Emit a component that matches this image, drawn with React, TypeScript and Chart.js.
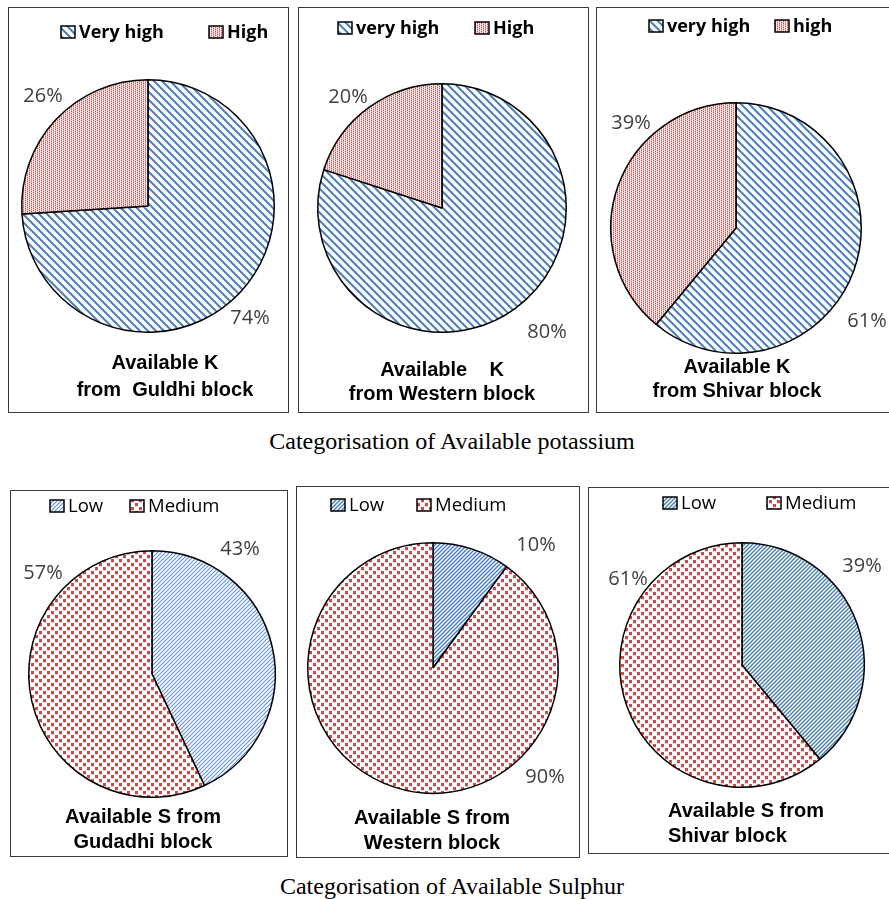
import React, { useEffect, useRef } from 'react';
import { Chart, registerables } from 'chart.js';

Chart.register(...registerables);

// ---- Available potassium (K) ----
const kGuldhiLabels = ['Very high', 'High'];
const kGuldhiValues = [74, 26];
const kGuldhiTitle = ['Available K', 'from  Guldhi block'];

const kWesternLabels = ['very high', 'High'];
const kWesternValues = [80, 20];
const kWesternTitle = ['Available    K', 'from Western block'];

const kShivarLabels = ['very high', 'high'];
const kShivarValues = [61, 39];
const kShivarTitle = ['Available K', 'from Shivar block'];

// ---- Available sulphur (S) ----
const sLabels = ['Low', 'Medium'];
const sGudadhiValues = [43, 57];
const sGudadhiTitle = ['Available S from', 'Gudadhi block'];
const sWesternValues = [10, 90];
const sWesternTitle = ['Available S from', 'Western block'];
const sShivarValues = [39, 61];
const sShivarTitle = ['Available S from', 'Shivar block'];

const potassiumCaption = 'Categorisation of Available potassium';
const sulphurCaption = 'Categorisation of Available Sulphur';

const BLUE = '#4F81BD';
const RED = '#CC4A47';

type FillKind = 'wideDown' | 'redDots' | 'fineUpLight' | 'fineUp' | 'confetti';

function makeTile(w: number, h: number, draw: (g: CanvasRenderingContext2D) => void) {
  const c = document.createElement('canvas');
  c.width = w;
  c.height = h;
  const g = c.getContext('2d')!;
  g.fillStyle = '#fff';
  g.fillRect(0, 0, w, h);
  draw(g);
  return c;
}

function makeFill(ctx: CanvasRenderingContext2D, kind: FillKind): CanvasPattern {
  let tile: HTMLCanvasElement;
  if (kind === 'wideDown') {
    // wide "\" stripes
    tile = makeTile(8, 8, (g) => {
      g.strokeStyle = BLUE;
      g.lineWidth = 2.1;
      for (let k = -16; k <= 16; k += 8) {
        g.beginPath();
        g.moveTo(k - 8, -8);
        g.lineTo(k + 16, 16);
        g.stroke();
      }
    });
  } else if (kind === 'redDots') {
    // fine vertical dotted columns
    tile = makeTile(4, 4, (g) => {
      g.fillStyle = 'rgba(214,90,86,0.14)';
      g.fillRect(1, 0, 1, 4);
      g.fillRect(3, 0, 1, 4);
      g.fillStyle = 'rgba(214,90,86,0.45)';
      g.fillRect(0, 0, 1, 4);
      g.fillRect(2, 0, 1, 4);
      g.fillStyle = '#D4504C';
      g.fillRect(0, 0, 1, 1);
      g.fillRect(0, 2, 1, 1);
      g.fillRect(2, 1, 1, 1);
      g.fillRect(2, 3, 1, 1);
    });
  } else if (kind === 'fineUpLight' || kind === 'fineUp') {
    // thin "/" stripes
    tile = makeTile(4, 4, (g) => {
      g.strokeStyle = kind === 'fineUp' ? BLUE : '#6A96D0';
      g.lineWidth = kind === 'fineUp' ? 1.5 : 1.2;
      for (let k = -8; k <= 8; k += 4) {
        g.beginPath();
        g.moveTo(k - 4, 8);
        g.lineTo(k + 8, -4);
        g.stroke();
      }
    });
  } else {
    // small red confetti squares
    tile = makeTile(8, 8, (g) => {
      g.fillStyle = 'rgba(204,74,71,0.25)';
      g.fillRect(0, 3, 3, 1);
      g.fillRect(4, 7, 3, 1);
      g.fillStyle = RED;
      g.fillRect(0, 0, 3, 3);
      g.fillRect(4, 4, 3, 3);
    });
  }
  return ctx.createPattern(tile, 'repeat')!;
}

type Panel = {
  labels: string[];
  values: number[];
  title: string[];
  fills: FillKind[];
  box: [number, number, number, number]; // left, top, width, height (page px)
  pie: [number, number, number]; // centre x, centre y, radius (page px)
  legendX: number[];
  legendY: number;
  legendFont: string;
  titleX: number;
  titleY: number[];
  titleAlign: CanvasTextAlign;
  labelOffset: [number, number][];
};

const TITLE_FONT = 'bold 20px "Liberation Sans", Arial, sans-serif';
const LEGEND_BOLD = 'bold 18px "Open Sans", sans-serif';
const LEGEND_REG = '18.5px "Open Sans", sans-serif';

const panels: Panel[] = [
  {
    labels: kGuldhiLabels, values: kGuldhiValues, title: kGuldhiTitle,
    fills: ['wideDown', 'redDots'],
    box: [8, 7, 281, 406], pie: [148, 206, 126],
    legendX: [61, 209], legendY: 32, legendFont: LEGEND_BOLD,
    titleX: 165, titleY: [363, 390], titleAlign: 'center',
    labelOffset: [[102, 112], [-105, -110]],
  },
  {
    labels: kWesternLabels, values: kWesternValues, title: kWesternTitle,
    fills: ['wideDown', 'redDots'],
    box: [298, 7, 291, 406], pie: [442, 208, 124],
    legendX: [338, 475], legendY: 28, legendFont: LEGEND_BOLD,
    titleX: 442, titleY: [370, 394], titleAlign: 'center',
    labelOffset: [[105, 124], [-94, -111]],
  },
  {
    labels: kShivarLabels, values: kShivarValues, title: kShivarTitle,
    fills: ['wideDown', 'redDots'],
    box: [596, 7, 300, 406], pie: [736, 228, 125],
    legendX: [649, 775], legendY: 26, legendFont: LEGEND_BOLD,
    titleX: 737, titleY: [367, 391], titleAlign: 'center',
    labelOffset: [[131, 93], [-105, -105]],
  },
  {
    labels: sLabels, values: sGudadhiValues, title: sGudadhiTitle,
    fills: ['fineUpLight', 'confetti'],
    box: [10, 490, 278, 367], pie: [152, 674, 123],
    legendX: [50, 130], legendY: 506, legendFont: LEGEND_REG,
    titleX: 143, titleY: [817, 842], titleAlign: 'center',
    labelOffset: [[88, -125], [-109, -101]],
  },
  {
    labels: sLabels, values: sWesternValues, title: sWesternTitle,
    fills: ['fineUp', 'confetti'],
    box: [296, 486, 284, 372], pie: [433, 668, 125],
    legendX: [331, 417], legendY: 505, legendFont: LEGEND_REG,
    titleX: 432, titleY: [818, 843], titleAlign: 'center',
    labelOffset: [[103, -123], [112, 109]],
  },
  {
    labels: sLabels, values: sShivarValues, title: sShivarTitle,
    fills: ['fineUp', 'confetti'],
    box: [588, 487, 308, 367], pie: [742, 665, 122],
    legendX: [663, 767], legendY: 503, legendFont: LEGEND_REG,
    titleX: 668, titleY: [811, 836], titleAlign: 'left',
    labelOffset: [[120, -99], [-114, -86]],
  },
];

const BORDER_W = 1.5;

function PiePanel({ p }: { p: Panel }) {
  const ref = useRef<HTMLCanvasElement>(null);
  const [left, top, w, h] = p.box;
  const cw = w - 2;
  const ch = h - 2;

  useEffect(() => {
    const canvas = ref.current!;
    const ctx = canvas.getContext('2d')!;
    const ox = left + 1;
    const oy = top + 1;
    const [cx, cy, r] = p.pie;
    const fills = p.fills.map((k) => makeFill(ctx, k));

    // legend keys, percentage labels and the two-line caption inside the box
    const decor = {
      id: 'panelDecor',
      afterDraw(chart: Chart) {
        const g = chart.ctx;
        const ds = chart.data.datasets[0];
        const vals = ds.data as number[];
        const bg = ds.backgroundColor as CanvasPattern[];
        g.save();

        // percentage labels
        g.font = '20px "Open Sans", sans-serif';
        g.fillStyle = '#404040';
        g.textAlign = 'center';
        g.textBaseline = 'middle';
        chart.getDatasetMeta(0).data.forEach((arc, i) => {
          const { x, y } = (arc as any).getProps(['x', 'y'], true);
          const [dx, dy] = p.labelOffset[i];
          g.fillText(`${vals[i]}%`, x + dx, y + dy);
        });

        // legend
        g.font = p.legendFont;
        g.textAlign = 'left';
        (chart.data.labels as string[]).forEach((lab, i) => {
          const sx = p.legendX[i] - ox;
          const sy = p.legendY - oy;
          g.fillStyle = bg[i];
          g.fillRect(sx, sy - 6, 14, 12);
          g.strokeStyle = '#000';
          g.lineWidth = 1.5;
          g.strokeRect(sx, sy - 6, 14, 12);
          g.fillStyle = '#000';
          g.fillText(lab, sx + 18, sy + 1);
        });

        // title
        g.font = TITLE_FONT;
        g.fillStyle = '#000';
        g.textAlign = p.titleAlign;
        p.title.forEach((line, i) => {
          g.fillText(line, p.titleX - ox, p.titleY[i] - oy);
        });
        g.restore();
      },
    };

    const chart = new Chart(canvas, {
      type: 'pie',
      data: {
        labels: p.labels,
        datasets: [
          {
            data: p.values,
            backgroundColor: fills,
            borderColor: '#000',
            borderWidth: BORDER_W,
          },
        ],
      },
      options: {
        responsive: false,
        animation: false,
        events: [],
        layout: {
          padding: {
            left: cx - r - 1 - ox,
            top: cy - r - 1 - oy,
            right: cw - (cx + r + 1 - ox),
            bottom: ch - (cy + r + 1 - oy),
          },
        },
        plugins: {
          legend: { display: false },
          tooltip: { enabled: false },
          title: { display: false },
        },
      },
      plugins: [decor],
    });
    return () => chart.destroy();
  }, [p]);

  return (
    <div
      style={{
        position: 'absolute',
        left,
        top,
        width: w,
        height: h,
        border: '1px solid #3a3a3a',
        boxSizing: 'border-box',
        background: '#fff',
      }}
    >
      <canvas ref={ref} width={cw} height={ch} style={{ display: 'block', width: cw, height: ch }} />
    </div>
  );
}

const captionStyle: React.CSSProperties = {
  position: 'absolute',
  left: 152,
  width: 600,
  height: 28,
  lineHeight: '28px',
  textAlign: 'center',
  fontFamily: '"Liberation Serif", "Times New Roman", serif',
  fontSize: 24,
  color: '#000',
  whiteSpace: 'nowrap',
};

export default function App() {
  return (
    <div
      style={{
        position: 'absolute',
        left: 0,
        top: 0,
        width: 889,
        height: 899,
        overflow: 'hidden',
        background: '#fff',
      }}
    >
      {panels.map((p, i) => (
        <PiePanel key={i} p={p} />
      ))}
      <div style={{ ...captionStyle, top: 427 }}>{potassiumCaption}</div>
      <div style={{ ...captionStyle, top: 872 }}>{sulphurCaption}</div>
    </div>
  );
}
